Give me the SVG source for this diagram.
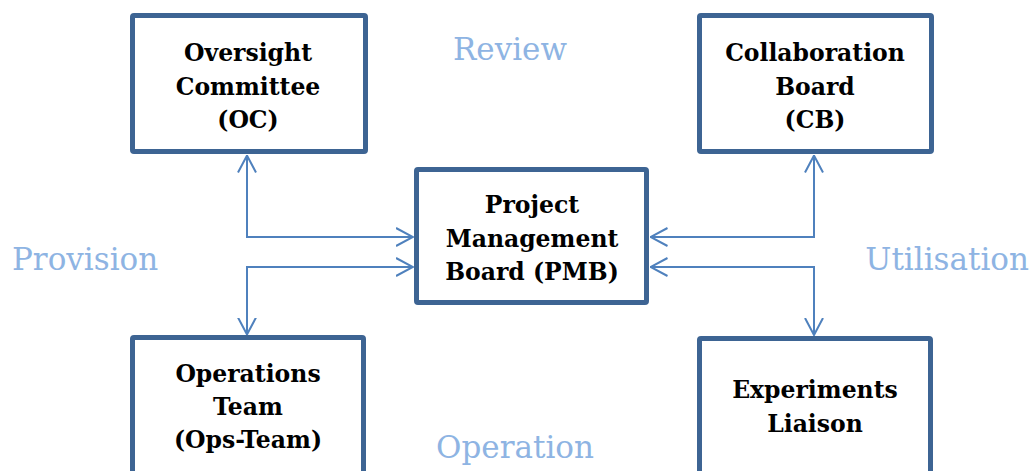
<svg xmlns="http://www.w3.org/2000/svg" width="1034" height="471" viewBox="0 0 1034 471">
<style>
.box{fill:#fff;stroke:#3d6493;stroke-width:5}
.t{font-family:"DejaVu Serif","Liberation Serif",serif;font-weight:bold;font-size:23.5px;fill:#000;text-anchor:middle}
.lbl{font-family:"DejaVu Serif","Liberation Serif",serif;font-size:31px;fill:#8eb4e3}
.c{fill:none;stroke:#4f81bd;stroke-width:2;marker-start:url(#ah);marker-end:url(#ah)}
</style>
<defs>
<marker id="ah" viewBox="0 0 18 20" refX="17" refY="10" markerWidth="18" markerHeight="20" markerUnits="userSpaceOnUse" orient="auto-start-reverse">
<path d="M0,1 L17,10 L0,19" fill="none" stroke="#4f81bd" stroke-width="2"/>
</marker>
</defs>
<rect width="1034" height="471" fill="#fff"/>
<g id="connectors">
<path class="c" d="M247,155.5 V237 H413"/>
<path class="c" d="M413,267 H247 V334.5"/>
<path class="c" d="M814,155.5 V237 H650.5"/>
<path class="c" d="M650.5,267 H814 V335"/>
</g>
<g id="oc">
<rect class="box" x="132.5" y="15.5" width="233" height="136" rx="1.5"/>
<text class="t" x="248" y="61">Oversight</text>
<text class="t" x="248" y="95">Committee</text>
<text class="t" x="248" y="128">(OC)</text>
</g>
<g id="cb">
<rect class="box" x="699.5" y="15.5" width="232" height="136" rx="1.5"/>
<text class="t" x="815" y="61">Collaboration</text>
<text class="t" x="815" y="95">Board</text>
<text class="t" x="815" y="128">(CB)</text>
</g>
<g id="pmb">
<rect class="box" x="416.5" y="169.5" width="230" height="133" rx="1.5"/>
<text class="t" x="532" y="213">Project</text>
<text class="t" x="532" y="247">Management</text>
<text class="t" x="532" y="280">Board (PMB)</text>
</g>
<g id="ops">
<rect class="box" x="132.5" y="337.5" width="231" height="150" rx="1.5"/>
<text class="t" x="248" y="382">Operations</text>
<text class="t" x="248" y="415">Team</text>
<text class="t" x="248" y="448">(Ops-Team)</text>
</g>
<g id="exp">
<rect class="box" x="699.5" y="338.5" width="231" height="150" rx="1.5"/>
<text class="t" x="815" y="398">Experiments</text>
<text class="t" x="815" y="432">Liaison</text>
</g>
<g id="labels">
<text class="lbl" x="510" y="60" text-anchor="middle">Review</text>
<text class="lbl" x="12" y="270">Provision</text>
<text class="lbl" x="1029" y="270" text-anchor="end">Utilisation</text>
<text class="lbl" x="515" y="458" text-anchor="middle">Operation</text>
</g>
</svg>
